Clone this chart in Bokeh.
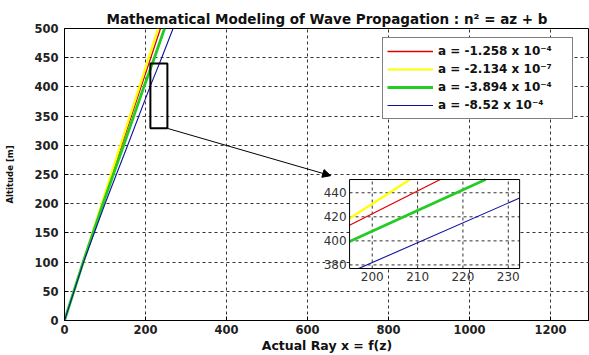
from bokeh.plotting import figure
from bokeh.models import Range1d, Legend, LegendItem, Arrow, NormalHead
from bokeh.core.properties import value
from bokeh.embed import file_html
from bokeh.resources import INLINE

# ---- data ----
altitude = [0, 100, 200, 300, 400, 450, 500]
x_red = [0, 46, 93, 141, 189, 213, 237]
x_yellow = [0, 46, 92, 138, 185, 208, 231]
x_green = [0, 46, 95, 146, 196, 222, 247]
x_blue = [0, 47, 100, 156, 211, 240, 268]

# inset (magnified view) segments
inset_red_x = [195, 215]
inset_red_z = [413, 451]
inset_yellow_x = [195, 208.3]
inset_yellow_z = [418.6, 451]
inset_green_x = [195, 225]
inset_green_z = [399.4, 451]
inset_blue_x = [197, 232.5]
inset_blue_z = [377, 435.6]

legend_labels = [
    "a = -1.258 x 10\u207b\u2074",
    "a = -2.134 x 10\u207b\u2077",
    "a = -3.894 x 10\u207b\u2074",
    "a = -8.52 x 10\u207b\u2074",
]
x_ticks = [0, 200, 400, 600, 800, 1000, 1200]
y_ticks = [0, 50, 100, 150, 200, 250, 300, 350, 400, 450, 500]
inset_x_ticks = [200, 210, 220, 230]
inset_y_ticks = [380, 400, 420, 440]

# ---- layout / style ----
FONT = "DejaVu Sans"
colors = ["#e00000", "#ffff00", "#22cc22", "#1010a0"]
widths = [1.3, 2.2, 2.8, 1.1]

p = figure(width=589, height=355, output_backend="svg", toolbar_location=None,
           x_range=Range1d(0, 1296), y_range=Range1d(0, 500),
           min_border_left=64, min_border_right=0, min_border_top=28, min_border_bottom=35,
           title="Mathematical Modeling of Wave Propagation : n\u00b2 = az + b")
p.title.align = "center"
p.title.text_font = FONT
p.title.text_font_size = "13.5px"
p.title.text_font_style = "bold"
p.title.text_color = "#111111"
p.title.standoff = 4

p.outline_line_color = "black"
p.outline_line_alpha = 1
p.background_fill_color = "white"
p.border_fill_color = "white"

p.xaxis.ticker = x_ticks
p.yaxis.ticker = y_ticks
for ax in (p.xaxis[0], p.yaxis[0]):
    ax.major_tick_in = 4
    ax.major_tick_out = 0
    ax.minor_tick_line_color = None
    ax.axis_line_color = "black"
    ax.major_tick_line_color = "black"
    ax.major_label_text_font = FONT
    ax.major_label_text_font_style = "bold"
    ax.major_label_text_font_size = "11.5px"
    ax.major_label_text_color = "#222222"
    ax.axis_label_text_font = FONT
    ax.axis_label_text_font_style = "bold"
    ax.axis_label_text_color = "#111111"
p.xaxis.axis_label = "Actual Ray x = f(z)"
p.xaxis.axis_label_text_font_size = "12.5px"
p.xaxis.major_label_standoff = 4
p.xaxis.axis_label_standoff = 1
p.yaxis.axis_label = "Altitude [m]"
p.yaxis.axis_label_text_font_size = "8.5px"
p.yaxis.major_label_standoff = 6
p.yaxis.axis_label_standoff = 16

for g in (p.xgrid[0], p.ygrid[0]):
    g.grid_line_color = "#333333"
    g.grid_line_dash = "3 3"
    g.grid_line_width = 1

series = [(x_red, altitude), (x_yellow, altitude), (x_green, altitude), (x_blue, altitude)]
renderers = []
for (xs, zs), c, w in zip(series, colors, widths):
    renderers.append(p.line(xs, zs, line_color=c, line_width=w))

# zoom marker rectangle and arrow
p.quad(left=212, right=254, bottom=329, top=440, fill_color=None,
       line_color="black", line_width=2)
p.add_layout(Arrow(end=NormalHead(size=8, fill_color="black", line_color="black"),
                   x_start=254, y_start=329, x_end=657, y_end=248,
                   line_color="black", line_width=1))

# ---- inset ----
ix0, ix1 = 195, 232.5
iz0, iz1 = 377, 451
sub = p.subplot(x_source=Range1d(ix0, ix1), y_source=Range1d(iz0, iz1),
                x_target=Range1d(703.7, 1123.5), y_target=Range1d(89.0, 241.4))
sub.quad(left=ix0, right=ix1, bottom=iz0, top=iz1, fill_color="white", line_color=None)
sub.segment(x0=inset_x_ticks, y0=[iz0] * 4, x1=inset_x_ticks, y1=[iz1] * 4,
            line_color="#333333", line_dash="3 3", line_width=1)
sub.segment(x0=[ix0] * 4, y0=inset_y_ticks, x1=[ix1] * 4, y1=inset_y_ticks,
            line_color="#333333", line_dash="3 3", line_width=1)
inset_series = [(inset_red_x, inset_red_z), (inset_yellow_x, inset_yellow_z),
                (inset_green_x, inset_green_z), (inset_blue_x, inset_blue_z)]
for (xs, zs), c, w in zip(inset_series, colors, widths):
    sub.line(xs, zs, line_color=c, line_width=w)
sub.quad(left=ix0, right=ix1, bottom=iz0, top=iz1, fill_color=None, line_color="black",
         line_width=1)
sub.text(x=inset_x_ticks, y=[iz0] * 4, text=[str(v) for v in inset_x_ticks],
         text_align="center", text_baseline="top", y_offset=3,
         text_font=value(FONT), text_font_size="12px", text_color="#333333")
sub.text(x=[ix0] * 4, y=inset_y_ticks, text=[str(v) for v in inset_y_ticks],
         text_align="right", text_baseline="middle", x_offset=-3,
         text_font=value(FONT), text_font_size="12px", text_color="#333333")

# ---- legend ----
legend = Legend(items=[LegendItem(label=l, renderers=[r]) for l, r in zip(legend_labels, renderers)],
                location=(318, 201))
legend.padding = 4
legend.spacing = 0
legend.margin = 0
legend.glyph_width = 46
legend.glyph_height = 18
legend.label_height = 18
legend.label_standoff = 5
legend.label_width = 130
legend.label_text_font = FONT
legend.label_text_font_style = "bold"
legend.label_text_font_size = "12px"
legend.label_text_color = "#111111"
legend.border_line_color = "black"
legend.border_line_width = 1
legend.background_fill_color = "white"
legend.background_fill_alpha = 1
p.add_layout(legend)

open("out.html", "w").write(file_html(p, INLINE))
